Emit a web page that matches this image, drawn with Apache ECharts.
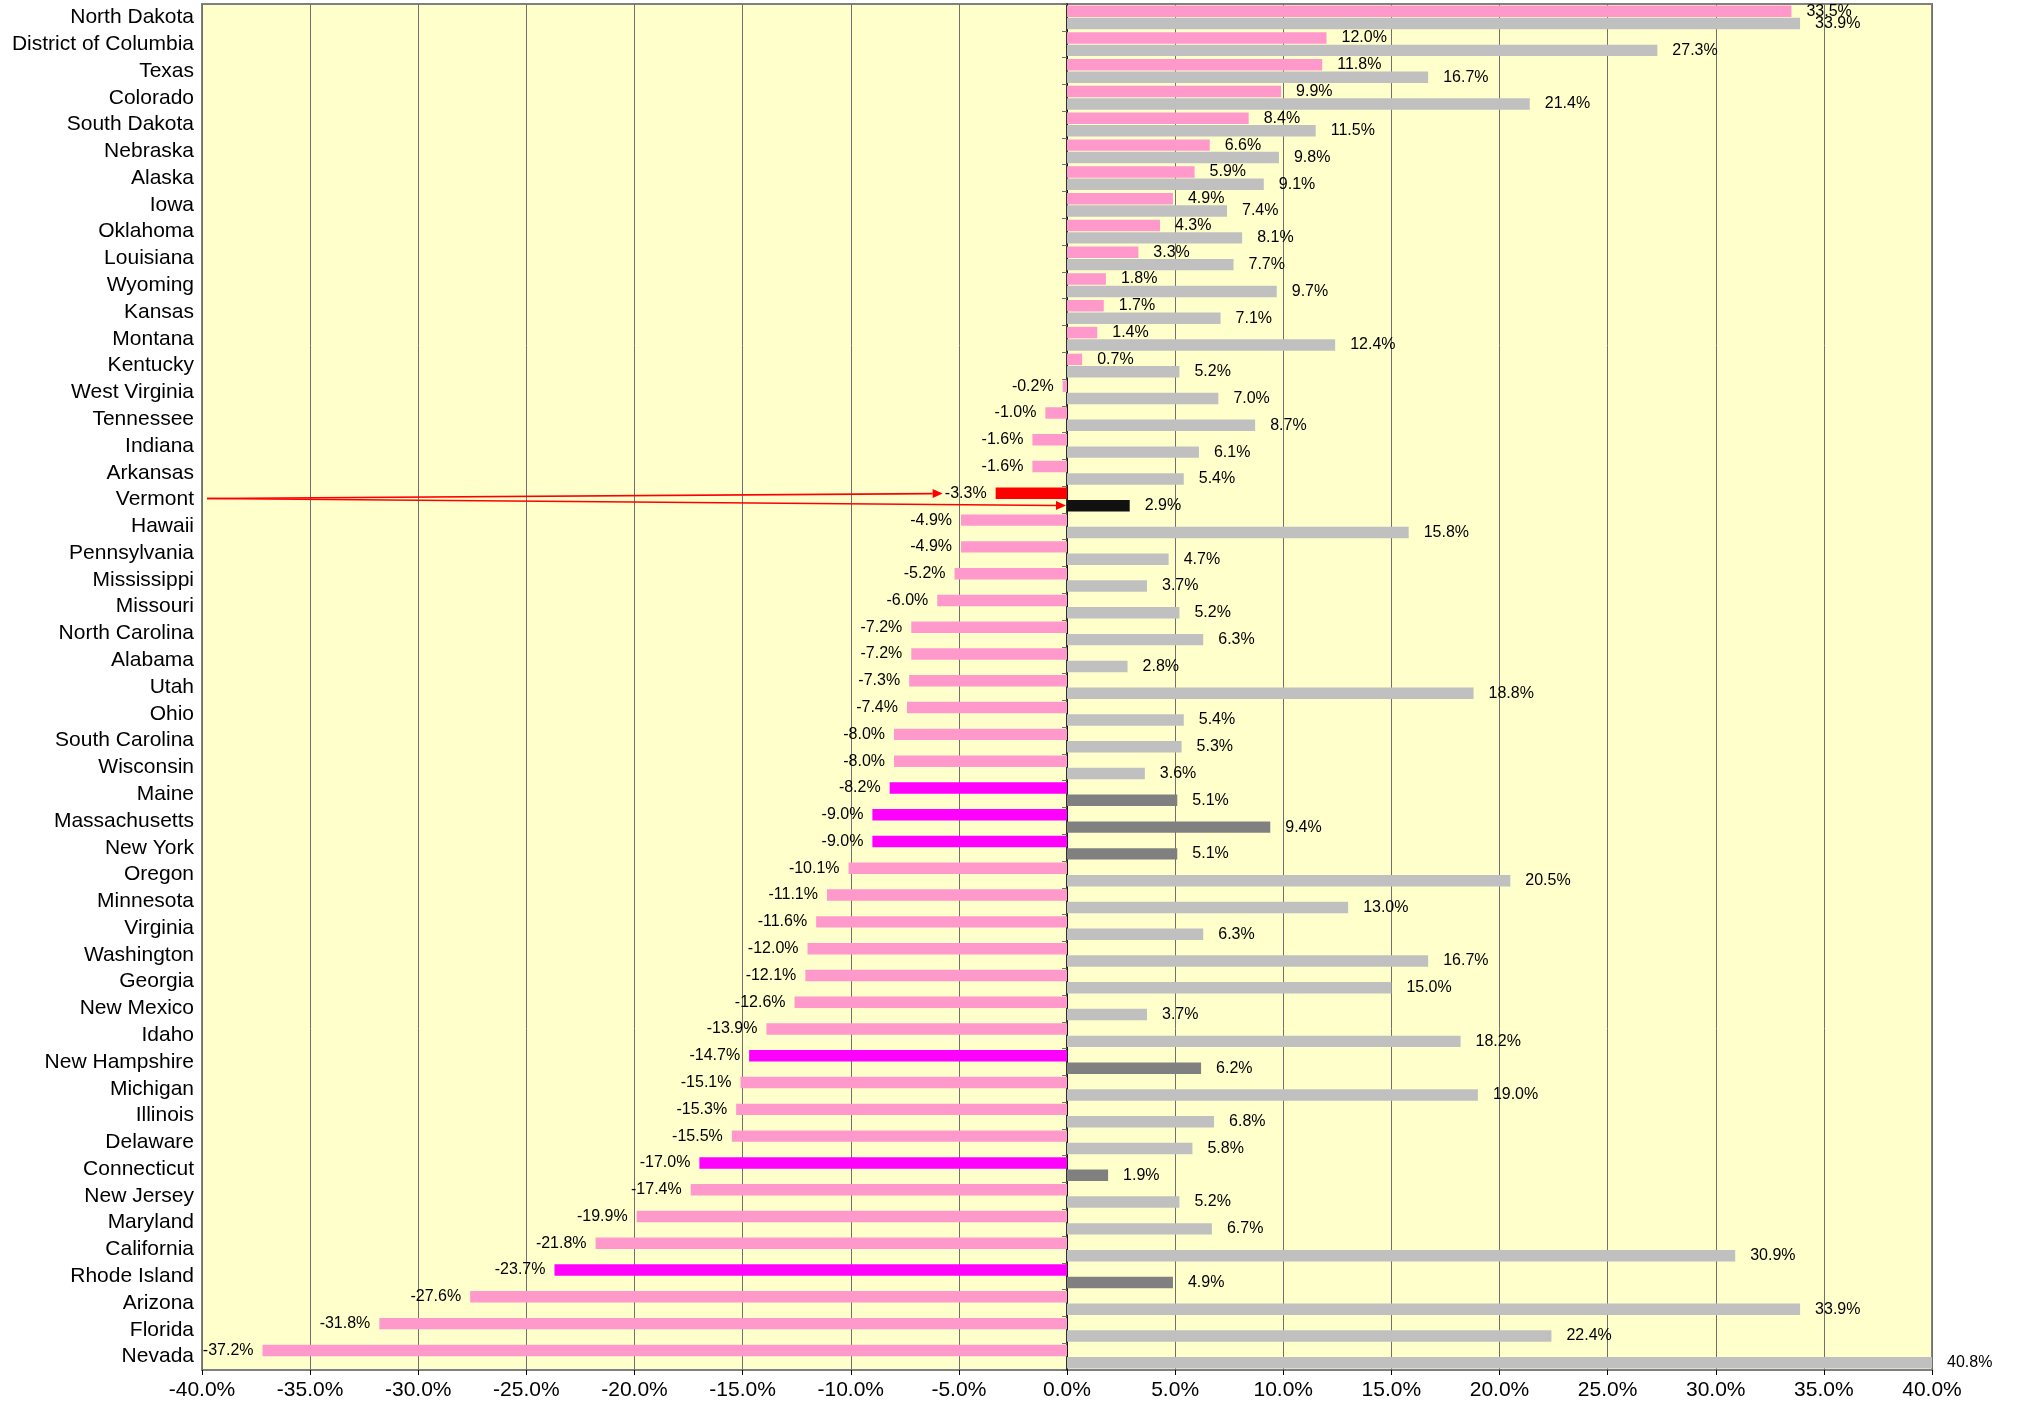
<!DOCTYPE html>
<html><head><meta charset="utf-8">
<script src="https://cdn.jsdelivr.net/npm/echarts@6/dist/echarts.min.js"></script>
<style>html,body{margin:0;padding:0;background:#fff}#c{width:2017px;height:1404px}</style>
</head><body><div id="c"></div>
<script>
const states = ['North Dakota','District of Columbia','Texas','Colorado','South Dakota','Nebraska','Alaska','Iowa','Oklahoma','Louisiana','Wyoming','Kansas','Montana','Kentucky','West Virginia','Tennessee','Indiana','Arkansas','Vermont','Hawaii','Pennsylvania','Mississippi','Missouri','North Carolina','Alabama','Utah','Ohio','South Carolina','Wisconsin','Maine','Massachusetts','New York','Oregon','Minnesota','Virginia','Washington','Georgia','New Mexico','Idaho','New Hampshire','Michigan','Illinois','Delaware','Connecticut','New Jersey','Maryland','California','Rhode Island','Arizona','Florida','Nevada'];
const changeA = [33.5,12.0,11.8,9.9,8.4,6.6,5.9,4.9,4.3,3.3,1.8,1.7,1.4,0.7,-0.2,-1.0,-1.6,-1.6,-3.3,-4.9,-4.9,-5.2,-6.0,-7.2,-7.2,-7.3,-7.4,-8.0,-8.0,-8.2,-9.0,-9.0,-10.1,-11.1,-11.6,-12.0,-12.1,-12.6,-13.9,-14.7,-15.1,-15.3,-15.5,-17.0,-17.4,-19.9,-21.8,-23.7,-27.6,-31.8,-37.2];
const changeB = [33.9,27.3,16.7,21.4,11.5,9.8,9.1,7.4,8.1,7.7,9.7,7.1,12.4,5.2,7.0,8.7,6.1,5.4,2.9,15.8,4.7,3.7,5.2,6.3,2.8,18.8,5.4,5.3,3.6,5.1,9.4,5.1,20.5,13.0,6.3,16.7,15.0,3.7,18.2,6.2,19.0,6.8,5.8,1.9,5.2,6.7,30.9,4.9,33.9,22.4,40.8];
const highlightStates = ['Maine','Massachusetts','New York','New Hampshire','Connecticut','Rhode Island'];
const focusState = 'Vermont';
const xMin = -40, xMax = 40, xStep = 5;
const arrowTipA = -5.75; // arrow to the focus label (data units)

const FONT = '"Liberation Sans", Arial, sans-serif';
function colorA(s){ return s===focusState ? '#FF0000' : (highlightStates.includes(s) ? '#FF00FF' : '#FF99CC'); }
function colorB(s){ return s===focusState ? '#111111' : (highlightStates.includes(s) ? '#808080' : '#C0C0C0'); }
function fmt(v){ return v.toFixed(1) + '%'; }
function mk(vals, colorFn){
  return vals.map((v,i)=>({
    value: v,
    itemStyle: {color: colorFn(states[i])},
    label: {position: v < 0 ? 'left' : 'right', distance: v < 0 ? 9 : 15}
  }));
}

const chart = echarts.init(document.getElementById('c'));
chart.setOption({
  animation: false,
  backgroundColor: '#ffffff',
  grid: {left: 202, right: 85, top: 4, bottom: 34, show: true, backgroundColor: '#FFFFCC', borderColor: '#808080', borderWidth: 2},
  xAxis: {
    type: 'value', min: xMin, max: xMax, interval: xStep,
    axisLine: {onZero: false, lineStyle: {color: '#000', width: 2}},
    axisTick: {show: true, length: 5, lineStyle: {color: '#000'}},
    axisLabel: {formatter: v => v.toFixed(1) + '%', color: '#000', fontSize: 21, fontFamily: FONT, margin: 10},
    splitLine: {show: true, lineStyle: {color: '#707070', width: 1}}
  },
  yAxis: [
    {type: 'category', data: states, inverse: true, position: 'left',
     axisLine: {show: false, onZero: false}, axisTick: {show: false},
     axisLabel: {interval: 0, color: '#000', fontSize: 21, fontFamily: FONT, margin: 8}},
    {type: 'category', data: states, inverse: true, position: 'left',
     axisLine: {show: true, onZero: true, onZeroAxisIndex: 0, lineStyle: {color: '#000', width: 1.6}},
     axisTick: {show: true, interval: 0, length: 5, lineStyle: {color: '#707070'}},
     axisLabel: {show: false}}
  ],
  series: [
    {type: 'bar', name: 'A', yAxisIndex: 0, data: mk(changeA, colorA), barGap: '8%', barCategoryGap: '11%',
     label: {show: true, formatter: p => fmt(p.value), color: '#000', fontSize: 16, fontFamily: FONT}},
    {type: 'bar', name: 'B', yAxisIndex: 0, data: mk(changeB, colorB), barGap: '8%', barCategoryGap: '11%', clip: true,
     label: {show: true, formatter: p => fmt(p.value), color: '#000', fontSize: 16, fontFamily: FONT}}
  ]
});

function arrow(p0, p1){
  const dx = p1[0]-p0[0], dy = p1[1]-p0[1], L = Math.hypot(dx,dy), ux = dx/L, uy = dy/L;
  const hl = 10, hw = 4.5;
  const bx = p1[0]-ux*hl, by = p1[1]-uy*hl;
  return [
    {type:'line', shape:{x1:p0[0], y1:p0[1], x2:bx, y2:by}, style:{stroke:'#FF0000', lineWidth:1.6}, z: 100},
    {type:'polygon', shape:{points:[[p1[0],p1[1]],[bx-uy*hw, by+ux*hw],[bx+uy*hw, by-ux*hw]]}, style:{fill:'#FF0000'}, z: 100}
  ];
}
const s = chart.convertToPixel({gridIndex:0}, [xMin, focusState]);
const tA = chart.convertToPixel({gridIndex:0}, [arrowTipA, focusState]);
const tB = chart.convertToPixel({gridIndex:0}, [0, focusState]);
const start = [s[0]+5, s[1]-1];
chart.setOption({graphic: [].concat(arrow(start, [tA[0], tA[1]-6]), arrow(start, [tB[0]-1, tB[1]+6]))});
</script></body></html>
